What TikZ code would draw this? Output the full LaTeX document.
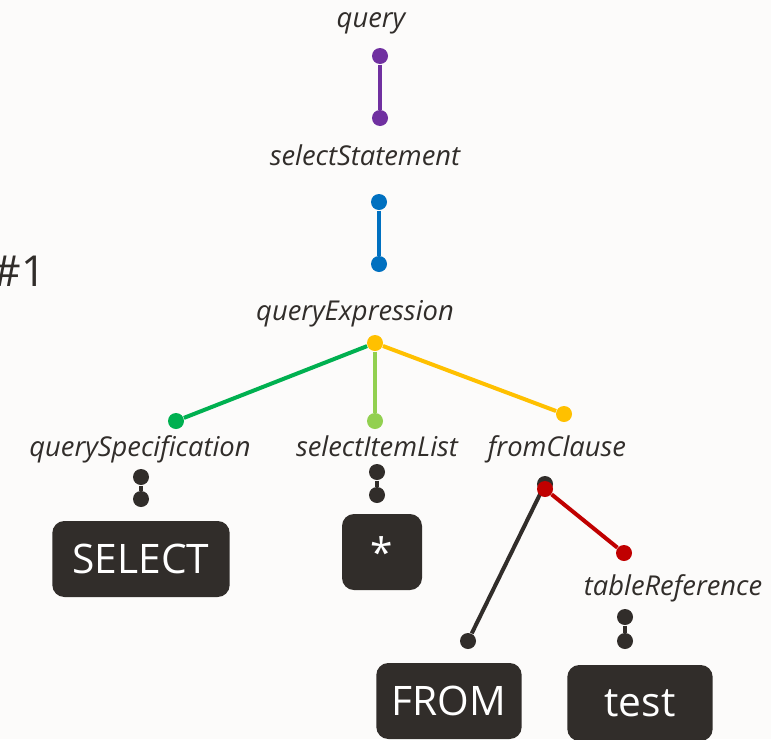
\documentclass[tikz,border=0pt]{standalone}
\usepackage{fontspec}
\setmainfont{Open Sans}
\definecolor{ink}{RGB}{49,45,42}
\definecolor{paper}{RGB}{252,251,250}
\definecolor{cpurple}{RGB}{112,48,160}
\definecolor{cblue}{RGB}{0,112,192}
\definecolor{cyellow}{RGB}{255,192,0}
\definecolor{cgreen}{RGB}{0,176,80}
\definecolor{clime}{RGB}{146,208,80}
\definecolor{cred}{RGB}{192,0,0}
\tikzset{every picture/.style={line width=0.75pt}}

\begin{document}
\begin{tikzpicture}[x=0.75pt,y=0.75pt,yscale=-1,xscale=1,
  dot/.style={circle,fill=#1,inner sep=0pt,minimum size=12pt},
  link/.style={line width=3pt,color=#1},
  rule/.style={anchor=base,inner sep=0.75pt,text=ink,font=\fontsize{20.5}{24}\selectfont\itshape},
  token/.style={fill=ink,rounded corners=9pt,text=white,inner sep=0pt,minimum height=57pt,font=\fontsize{30.5}{36}\selectfont}]
\useasboundingbox[fill=paper] (0,0) rectangle (771,739);

% Text Node
\node[anchor=base east,inner sep=0pt,text=ink,font=\fontsize{32}{36}\selectfont] (tag) at (46,286) {\#1};

% Rule names
\node[rule] (query) at (371,27) {query};
\node[rule] (selectStatement) at (365,165) {selectStatement};
\node[rule] (queryExpression) at (355,320) {queryExpression};
\node[rule] (querySpecification) at (140,456) {querySpecification};
\node[rule] (selectItemList) at (377,456) {selectItemList};
\node[rule] (fromClause) at (557,456) {fromClause};
\node[rule] (tableReference) at (673,595) {tableReference};

% Dots
\node[dot=cpurple] (qa) at (380,56) {};
\node[dot=cpurple] (qb) at (380,118) {};
\node[dot=cblue] (sa) at (379,202) {};
\node[dot=cblue] (sb) at (379,264) {};
\node[dot=cyellow] (ea) at (375,343) {};
\node[dot=cgreen] (eb) at (176,421) {};
\node[dot=clime] (ec) at (375,421) {};
\node[dot=cyellow] (ed) at (564,414) {};
\node[dot=ink] (pa) at (141,477) {};
\node[dot=ink] (pb) at (141,499) {};
\node[dot=ink] (ia) at (377,472) {};
\node[dot=ink] (ib) at (377,495) {};
\node[dot=ink] (fa) at (545,484) {};
\node[dot=ink] (fb) at (468,641) {};
\node[dot=cred] (fc) at (624,553) {};
\node[dot=ink] (ta) at (625,617) {};
\node[dot=ink] (tb) at (625,641) {};

% Links
\draw[link=cpurple] (qa) -- (qb);
\draw[link=cblue] (sa) -- (sb);
\draw[link=cgreen] (ea) -- (eb);
\draw[link=clime] (ea) -- (ec);
\draw[link=cyellow] (ea) -- (ed);
\draw[link=ink] (pa) -- (pb);
\draw[link=ink] (ia) -- (ib);
\draw[link=ink] (fa) -- (fb);
\draw[link=ink] (ta) -- (tb);
\node[dot=cred] (fr) at (545,489) {};
\draw[link=cred] (fr) -- (fc);

% Tokens
\node[token,minimum width=133pt] (select) at (141,559) {SELECT};
\node[token,minimum width=60pt] (star) at (382,552) {*};
\node[token,minimum width=109pt] (from) at (449,701) {FROM};
\node[token,minimum width=109pt] (test) at (640,703) {test};

\end{tikzpicture}
\end{document}
